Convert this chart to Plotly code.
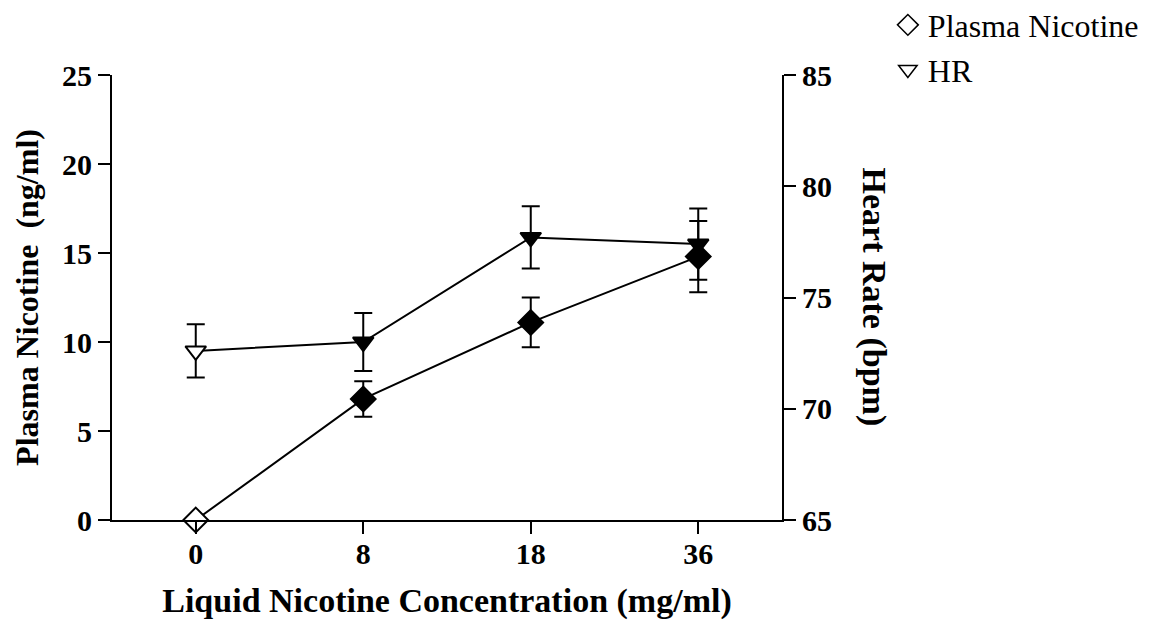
import plotly.graph_objects as go

categories = ["0", "8", "18", "36"]
nicotine = [0.0, 6.8, 11.1, 14.8]
nicotine_sem = [0.0, 1.0, 1.4, 2.0]
hr = [72.6, 73.0, 77.7, 77.4]
hr_sem = [1.2, 1.3, 1.4, 1.6]
fill_colors = ["white", "black", "black", "black"]

FONT = "Liberation Serif"
fig = go.Figure()

fig.add_trace(go.Scatter(
    x=categories, y=hr, yaxis="y2", mode="lines+markers", showlegend=False,
    line=dict(color="black", width=2),
    marker=dict(symbol="triangle-down", size=18, color=fill_colors,
                line=dict(color="black", width=2)),
    error_y=dict(type="data", array=hr_sem, color="black", thickness=2, width=9),
    cliponaxis=False,
))
fig.add_trace(go.Scatter(
    x=categories, y=nicotine, mode="lines+markers", showlegend=False,
    line=dict(color="black", width=2),
    marker=dict(symbol="diamond", size=19, color=fill_colors,
                line=dict(color="black", width=2)),
    error_y=dict(type="data", array=nicotine_sem, color="black", thickness=2, width=9),
    cliponaxis=False,
))
# legend-only entries
fig.add_trace(go.Scatter(x=[None], y=[None], mode="markers", name="Plasma Nicotine",
                         marker=dict(symbol="diamond", size=16, color="white",
                                     line=dict(color="black", width=1.5))))
fig.add_trace(go.Scatter(x=[None], y=[None], mode="markers", name="HR",
                         marker=dict(symbol="triangle-down", size=16, color="white",
                                     line=dict(color="black", width=1.5))))

tick_font = dict(family=FONT, size=30, color="black", weight="bold")
title_font = dict(family=FONT, size=34, color="black", weight="bold")
common = dict(showgrid=False, zeroline=False, showline=True, linecolor="black", linewidth=2,
              ticks="outside", ticklen=12, tickwidth=2, tickcolor="black", tickfont=tick_font)
fig.update_layout(
    width=1148, height=614,
    margin=dict(l=104, r=374, t=67, b=102, autoexpand=False),
    plot_bgcolor="white", paper_bgcolor="white",
    font=dict(family=FONT, color="black"),
    xaxis=dict(type="category", range=[-0.5, 3.5], ticklabelstandoff=-6,
               title=dict(text="Liquid Nicotine Concentration (mg/ml)", font=title_font,
                          standoff=19), **common),
    yaxis=dict(range=[0, 25], tickvals=[0, 5, 10, 15, 20, 25],
               title=dict(text="Plasma Nicotine  (ng/ml)",
                          font=dict(family=FONT, size=32, color="black", weight="bold"),
                          standoff=14),
               **common),
    yaxis2=dict(range=[65, 85], tickvals=[65, 70, 75, 80, 85], overlaying="y", side="right",
                **common),
    legend=dict(x=1.158, y=1.174, xanchor="left", yanchor="top",
                font=dict(family=FONT, size=32, color="black"),
                bgcolor="rgba(0,0,0,0)"),
    annotations=[dict(text="Heart Rate (bpm)", textangle=90, xref="paper", yref="paper",
                      x=1.1388, y=0.5, xanchor="center", yanchor="middle",
                      showarrow=False, font=title_font)],
)

fig.write_html("out.html")
